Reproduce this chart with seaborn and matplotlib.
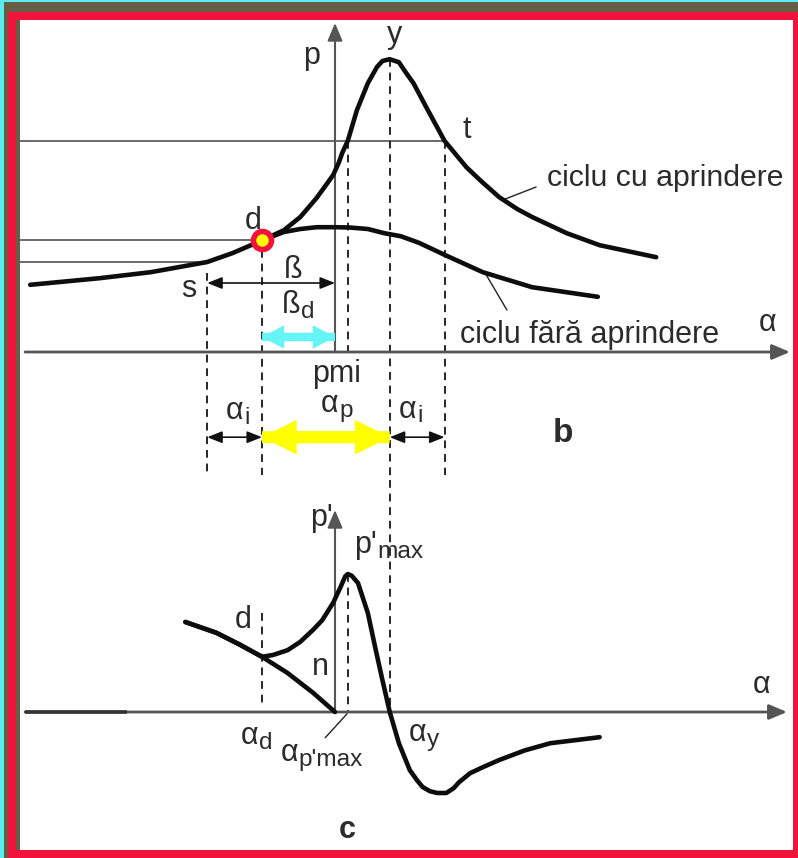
import matplotlib
matplotlib.use("Agg")
import matplotlib.pyplot as plt
from matplotlib.patches import Rectangle, FancyArrowPatch, ArrowStyle
import pandas as pd
import seaborn as sns

# ---------------------------------------------------------------- data
# crank angle α in degrees (0 = pmi), cylinder pressure p (bar) -- panel b
alpha_cu = [-83.5, -64.5, -50.5, -35, -28, -20, -14, -9.5, -5, -2.5, -0.5, 1,
            2, 3.5, 6, 9, 11.5, 13, 15, 17.5, 19.5, 21.5, 25, 30, 33, 36, 40,
            45, 50, 54, 63.5, 72.5, 88]
p_cu = [11.2, 12.3, 13.3, 15.0, 16.5, 18.6, 20.3, 22.5, 25.7, 27.8, 29.5, 31.5,
        33.2, 35.2, 40.3, 44.8, 47.5, 48.5, 48.8, 48.3, 46.5, 44.8, 40.8, 35.2,
        33.0, 30.8, 28.5, 25.8, 23.8, 22.5, 19.8, 17.8, 15.8]
alpha_fara = [-20, -14, -9.5, -5, 0, 4, 9, 13.5, 18, 23, 30, 40.5, 54, 72]
p_fara = [18.6, 20.0, 20.5, 20.8, 20.8, 20.75, 20.5, 19.8, 19.3, 18.2, 16.2,
          13.3, 10.8, 9.2]

# pressure derivative p' -- panel c
alpha_dfara = [-41, -32.5, -26, -20, -13, -6, 0]
dp_fara = [15.0, 13.2, 11.2, 9.2, 6.5, 3.2, 0]
alpha_dcu = [-41, -32.5, -26, -20, -17, -13, -9.5, -6, -3.5, -0.5, 1.5, 2.8,
             3.5, 4.6, 6.3, 9, 11, 13, 15, 17.5, 20.5, 22.5, 24, 26, 28, 30.5,
             32.5, 34, 37, 40.5, 45, 52, 59, 72.5]
dp_cu = [15.0, 13.2, 11.2, 9.2, 9.5, 10.3, 11.7, 13.7, 15.3, 18.2, 20.8, 22.6,
         23.0, 22.7, 21.5, 16.5, 10.8, 5.3, 0, -5.2, -9.7, -11.4, -12.5, -13.2,
         -13.5, -13.5, -12.7, -11.7, -10.2, -9.2, -8.0, -6.4, -5.2, -4.2]

# characteristic points
A_S, A_D, A_PMAX, A_Y, A_T = -35, -20, 3.5, 15, 30
P_S, P_D, P_T, P_Y = 15.0, 18.6, 35.2, 48.8
DP_D, DP_MAX = 9.2, 23.0

labels_cycle = ["ciclu cu aprindere", "ciclu fără aprindere"]

# ---------------------------------------------------------------- style
sns.set_theme(style="white")
plt.rcParams["font.family"] = ["Liberation Sans", "DejaVu Sans"]

TXT = "#2b2b2b"
CURVE = "#0d0d0d"
AXC = "#555555"
GRID = "#6a6a6a"
DASH = "#262626"
FS = 22

W, H = 798, 858
fig = plt.figure(figsize=(W / 100, H / 100), dpi=100, facecolor="white")


def band(x0, y0, x1, y1, color):
    fig.patches.append(Rectangle((x0 / W, 1 - y1 / H), (x1 - x0) / W,
                                 (y1 - y0) / H, transform=fig.transFigure,
                                 facecolor=color, edgecolor="none", zorder=0))


CYAN, OLIVE, RED = "#5aeef0", "#675c45", "#f0143d"
band(0, 0, 798, 1.5, CYAN)
band(0, 0, 3.5, 858, CYAN)
band(3.5, 1.5, 798, 12, OLIVE)
band(3.5, 1.5, 8, 858, OLIVE)
band(8, 12, 798, 20, RED)
band(8, 12, 16, 858, RED)
band(16, 20, 20, 850, OLIVE)
band(793, 12, 798, 858, RED)
band(8, 850, 798, 858, RED)

# horizontal scale: 3.65 px per degree, pmi at x = 335 px; vertical 6 px / bar
PXD, X0 = 3.65, 335
XLIM = ((20 - X0) / PXD, (793 - X0) / PXD)

axb = fig.add_axes([20 / W, 1 - 480 / H, 773 / W, 460 / H])
axb.set_xlim(*XLIM)
axb.set_ylim((352 - 480) / 6, (352 - 20) / 6)
axc = fig.add_axes([20 / W, 1 - 850 / H, 773 / W, 370 / H])
axc.set_xlim(*XLIM)
axc.set_ylim((712 - 850) / 6, (712 - 480) / 6)
for ax in (axb, axc):
    ax.axis("off")
    ax.patch.set_alpha(0)


def axis_arrow(ax, start, end, lw, color=AXC):
    ax.annotate("", xy=end, xytext=start,
                arrowprops=dict(arrowstyle="-|>,head_length=0.9,head_width=0.38",
                                mutation_scale=12, lw=lw, color=color,
                                shrinkA=0, shrinkB=0), zorder=2)


def thin_arrow(ax, x0, x1, y):
    ax.annotate("", xy=(x1, y), xytext=(x0, y),
                arrowprops=dict(arrowstyle="<|-|>,head_length=0.75,head_width=0.3",
                                mutation_scale=12, lw=1.2, color="#111111",
                                shrinkA=0, shrinkB=0), zorder=4)


def fat_arrow(ax, x0, x1, y, color, hl, hw, tw):
    style = ArrowStyle.Simple(head_length=hl, head_width=hw, tail_width=tw)
    for a, b in ((x0, x1), (x1, x0)):
        ax.add_patch(FancyArrowPatch((a, y), (b, y), arrowstyle=style,
                                     mutation_scale=1, facecolor=color,
                                     edgecolor="none", lw=0, shrinkA=0,
                                     shrinkB=0, zorder=4))


def label(ax, x, y, main, sub=None, size=FS, ha="center", weight="normal"):
    t = ax.text(x, y, main, fontsize=size, ha=ha, va="center", color=TXT,
                fontweight=weight, zorder=6)
    if sub:
        ax.annotate(sub, xy=(1, 0.27), xycoords=t, xytext=(0.5, 0),
                    textcoords="offset points", fontsize=size * 0.8,
                    ha="left", va="center", color=TXT, zorder=6)
    return t


def dashed(ax, x, y0, y1):
    ax.plot([x, x], [y0, y1], color=DASH, lw=1.4, ls=(0, (4, 3)), zorder=1)


# ---------------------------------------------------------------- panel b
yb0, yb1 = axb.get_ylim()
for yv, xe in ((P_T, A_T), (P_D, A_D), (P_S, A_S)):
    axb.plot([XLIM[0], xe], [yv, yv], color=GRID, lw=1.4, zorder=1)

axis_arrow(axb, ((25 - X0) / PXD, 0), ((790 - X0) / PXD, 0), 2.0)
axis_arrow(axb, (0, 0), (0, (352 - 23) / 6), 1.5)

dashed(axb, A_S, 13.2, -20.5)
dashed(axb, A_D, 17.0, -20.5)
dashed(axb, A_PMAX, P_T, 0)
dashed(axb, A_Y, P_Y, yb0)
dashed(axb, A_T, P_T, -20.5)

df_b = pd.DataFrame({
    "alpha": alpha_cu + alpha_fara,
    "p": p_cu + p_fara,
    "ciclu": [labels_cycle[0]] * len(alpha_cu) + [labels_cycle[1]] * len(alpha_fara),
})
sns.lineplot(data=df_b, x="alpha", y="p", hue="ciclu",
             palette={labels_cycle[0]: CURVE, labels_cycle[1]: CURVE},
             estimator=None, errorbar=None, legend=False, lw=3.3,
             solid_capstyle="round", solid_joinstyle="round", ax=axb, zorder=3)
axb.set_xlim(*XLIM)
axb.set_ylim(yb0, yb1)
axb.axis("off")

axb.plot([A_D], [P_D], marker="o", ms=13, mfc="#ffff00", mec=RED, mew=4,
         zorder=5)

thin_arrow(axb, A_S, 0, 11.5)
fat_arrow(axb, A_D, 0, 2.5, "#66f4f6", 16, 17, 6)
fat_arrow(axb, A_D, A_Y, -14.2, "#ffff00", 25, 25, 8.6)
thin_arrow(axb, A_S, A_D, -14.2)
thin_arrow(axb, A_Y, A_T, -14.2)

# leader lines to the curve names
axb.plot([45.8, 55.1], [25.3, 27.5], color="#222222", lw=1.0, zorder=2)
axb.plot([41.1, 47.1], [13.2, 7.0], color="#222222", lw=1.0, zorder=2)

label(axb, -6.3, 49.3, "p")
label(axb, 16.4, 52.9, "y")
label(axb, 36.2, 37.0, "t")
label(axb, -22.5, 21.8, "d")
label(axb, -40.0, 10.5, "s")
label(axb, -11.5, 13.7, "ß")
label(axb, -12.0, 7.9, "ß", "d")
label(axb, 0.3, -3.6, "pmi")
label(axb, -1.5, -8.7, "α", "p")
label(axb, -27.5, -9.8, "α", "i")
label(axb, 20.0, -9.6, "α", "i")
label(axb, 62.5, -13.5, "b", size=24, weight="bold")
label(axb, 118.4, 4.8, "α")
label(axb, 58.1, 29.0, labels_cycle[0], ha="left", size=21.8)
label(axb, 34.2, 2.8, labels_cycle[1], ha="left", size=22)

# ---------------------------------------------------------------- panel c
yc0, yc1 = axc.get_ylim()
axis_arrow(axc, ((25 - X0) / PXD, 0), ((787 - X0) / PXD, 0), 2.0)
axc.plot([(25 - X0) / PXD, (127 - X0) / PXD], [0, 0], color="#333333",
         lw=2.6, zorder=2, solid_capstyle="butt")
axis_arrow(axc, (0, 0), (0, (712 - 510) / 6), 1.5)

dashed(axc, A_D, 16.5, 0.8)
dashed(axc, A_PMAX, DP_MAX, 0)
dashed(axc, A_Y, yc1, 0)

df_c = pd.DataFrame({
    "alpha": alpha_dcu + alpha_dfara,
    "dp": dp_cu + dp_fara,
    "ciclu": [labels_cycle[0]] * len(alpha_dcu) + [labels_cycle[1]] * len(alpha_dfara),
})
sns.lineplot(data=df_c, x="alpha", y="dp", hue="ciclu",
             palette={labels_cycle[0]: CURVE, labels_cycle[1]: CURVE},
             estimator=None, errorbar=None, legend=False, lw=3.3,
             solid_capstyle="round", solid_joinstyle="round", ax=axc, zorder=3)
axc.set_xlim(*XLIM)
axc.set_ylim(yc0, yc1)
axc.axis("off")

axc.plot([3.3, -2.7], [-0.3, -4.3], color="#222222", lw=1.0, zorder=2)

label(axc, -3.6, 32.3, "p'")
label(axc, 5.3, 27.9, "p'", "max", ha="left")
label(axc, -23.5, -4.0, "α", "d")
label(axc, -25.2, 15.3, "d")
label(axc, -4.1, 7.5, "n")
label(axc, -12.5, -6.8, "α", "p'max")
label(axc, 22.5, -3.5, "α", "y")
label(axc, 117.0, 4.5, "α")
label(axc, 3.3, -19.7, "c", size=22, weight="bold")

fig.savefig("out.png", dpi=100, facecolor="white")
